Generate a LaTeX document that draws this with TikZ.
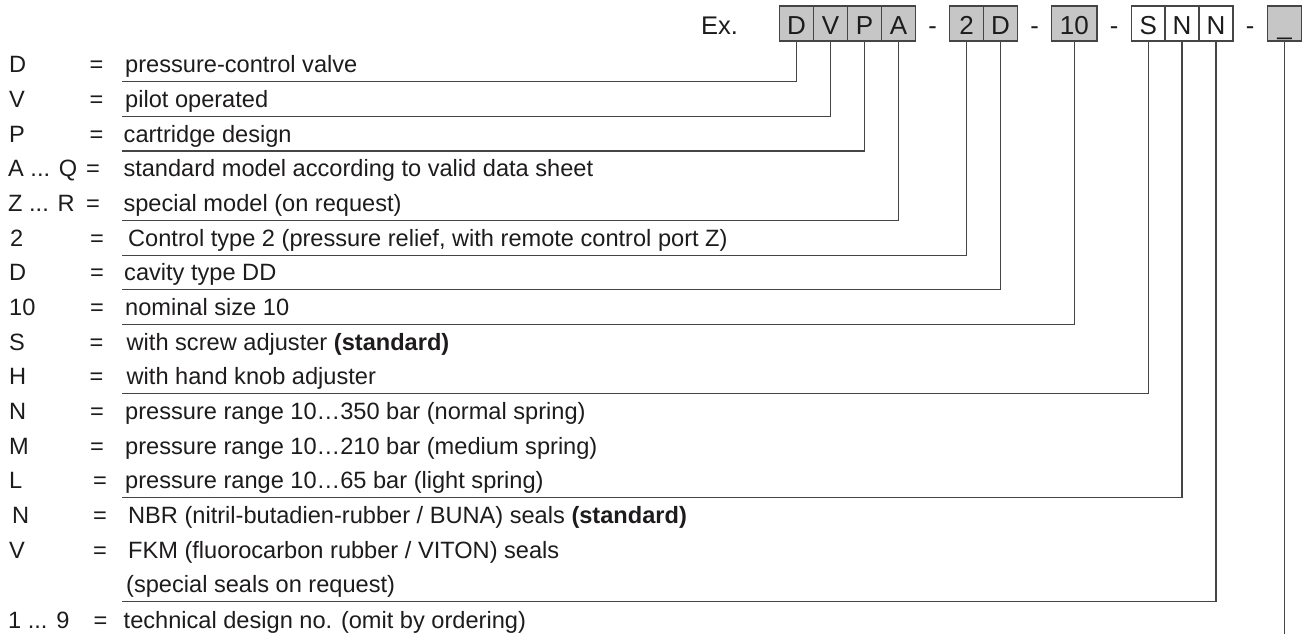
\documentclass[tikz,border=0pt]{standalone}
\usepackage{fontspec}
\setmainfont{Liberation Sans}
\definecolor{ink}{HTML}{1E1B1C}
\definecolor{cellgray}{HTML}{C6C6C6}
\definecolor{rulegray}{HTML}{454545}

% one legend line: name, baseline y, code x, code, "=" centre x, text x, text
\newcommand\legendrow[7]{%
  \node[txt] (c#1) at (#3,#2) {#4};
  \node[txt,anchor=base] (e#1) at (#5,#2) {=};
  \node[txt] (d#1) at (#6,#2) {#7};}

\begin{document}
\begin{tikzpicture}[x=1pt,y=-1pt,
  txt/.style={anchor=base west, inner sep=0pt, text=ink,
    font=\fontsize{23.6}{28}\selectfont},
  headtxt/.style={txt, font=\fontsize{25.5}{30}\selectfont},
  cell/.style={draw=rulegray, line width=1.2pt, fill=cellgray,
    minimum width=34pt, minimum height=35pt, inner sep=0pt,
    text height=21.6pt, text depth=0pt, text=ink,
    font=\fontsize{26}{30}\selectfont},
  blankcell/.style={cell, fill=white},
  lead/.style={draw=rulegray, line width=1.1pt},
]
\useasboundingbox (0,0) rectangle (1304,635);

% type code header
\node[headtxt] (ex) at (701,34.3) {Ex.};
\node[cell] (bD) at (796.5,23.5) {D};
\node[cell] (bV) at (830.5,23.5) {V};
\node[cell] (bP) at (864.5,23.5) {P};
\node[cell] (bA) at (898.5,23.5) {A};
\node[headtxt,anchor=base] (h1) at (932.5,34.3) {-};
\node[cell] (b2) at (966.5,23.5) {2};
\node[cell] (bD2) at (1000.5,23.5) {D};
\node[headtxt,anchor=base] (h2) at (1034.5,34.3) {-};
\node[cell,minimum width=45.5pt] (b10) at (1074.25,23.5) {10};
\node[headtxt,anchor=base] (h3) at (1114,34.3) {-};
\node[blankcell,minimum width=33.5pt] (bS) at (1148.25,23.5) {S};
\node[blankcell] (bN1) at (1182,23.5) {N};
\node[blankcell] (bN2) at (1216,23.5) {N};
\node[headtxt,anchor=base] (h4) at (1250,34.3) {-};
\node[cell] (bX) at (1284.5,23.5) {\_};

% legend
\legendrow{0}{72.7}{9}{D}{96.5}{125}{pressure-control valve}
\legendrow{1}{107.37}{9}{V}{96.5}{125}{pilot operated}
\legendrow{2}{142.04}{9}{P}{96.5}{123.5}{cartridge design}
\legendrow{3}{176.71}{8}{A ... Q}{93}{123.3}{standard model according to valid data sheet}
\legendrow{4}{211.38}{8}{Z ... R}{93}{123.3}{special model (on request)}
\legendrow{5}{246.05}{10}{2}{97}{128}{Control type 2 (pressure relief, with remote control port Z)}
\legendrow{6}{280.72}{9}{D}{97}{124}{cavity type DD}
\legendrow{7}{315.39}{9}{10}{97}{125}{nominal size 10}
\legendrow{8}{350.06}{9}{S}{96.5}{126.5}{with screw adjuster \textbf{(standard)}}
\legendrow{9}{384.73}{9}{H}{96.5}{126.5}{with hand knob adjuster}
\legendrow{10}{419.4}{9}{N}{97}{125}{pressure range 10…350 bar (normal spring)}
\legendrow{11}{454.07}{9}{M}{97}{125}{pressure range 10…210 bar (medium spring)}
\legendrow{12}{488.74}{9}{L}{100}{125}{pressure range 10…65 bar (light spring)}
\legendrow{13}{523.41}{12}{N}{100}{128}{NBR (nitril-butadien-rubber / BUNA) seals \textbf{(standard)}}
\legendrow{14}{558.08}{9}{V}{100}{128}{FKM (fluorocarbon rubber / VITON) seals}
\node[txt] (d14b) at (126,592.75) {(special seals on request)};
\legendrow{16}{628.5}{8}{1 ... 9}{100.5}{123.5}{technical design no. (omit by ordering)}

% leader ends
\coordinate (lD)  at (121.7,81.7);
\coordinate (lV)  at (121.7,116.37);
\coordinate (lP)  at (121.7,151.04);
\coordinate (lA)  at (121.7,220.38);
\coordinate (l2)  at (121.7,255.05);
\coordinate (lD2) at (121.7,289.72);
\coordinate (l10) at (121.7,324.39);
\coordinate (lS)  at (121.7,393.73);
\coordinate (lN1) at (121.7,497.74);
\coordinate (lN2) at (121.7,601.75);
\coordinate (lX)  at (1284.5,634);

% leaders from each code cell
\draw[lead] (bD) |- (lD);
\draw[lead] (bV) |- (lV);
\draw[lead] (bP) |- (lP);
\draw[lead] (bA) |- (lA);
\draw[lead] (b2) |- (l2);
\draw[lead] (bD2) |- (lD2);
\draw[lead] (b10) |- (l10);
\draw[lead] (bS) |- (lS);
\draw[lead] (bN1) |- (lN1);
\draw[lead] (bN2) |- (lN2);
\draw[lead] (bX) -- (lX);
\end{tikzpicture}
\end{document}
